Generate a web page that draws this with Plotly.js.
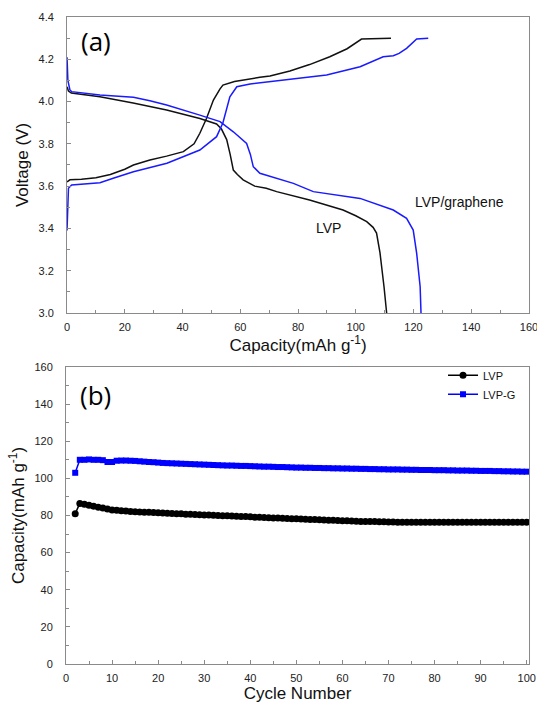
<!DOCTYPE html>
<html>
<head>
<meta charset="utf-8">
<script src="https://cdn.plot.ly/plotly-3.0.1.min.js"></script>
<style>html,body{margin:0;padding:0;background:#fff;}#chart{width:537px;height:706px;}</style>
</head>
<body>
<div id="chart"></div>
<script>
// ---- Panel (a): charge/discharge curves ----
const lvpChargeCap = [0, 1, 5, 10, 15, 20, 23, 28.7, 34.5, 40.3, 44, 46, 48.3, 50.7, 53, 54, 58, 62, 66.8, 70.3, 77.2, 84, 91, 97, 102, 112.2];
const lvpChargeV   = [3.62, 3.63, 3.632, 3.64, 3.655, 3.68, 3.70, 3.724, 3.742, 3.763, 3.80, 3.85, 3.92, 4.007, 4.06, 4.078, 4.095, 4.105, 4.115, 4.121, 4.145, 4.175, 4.212, 4.25, 4.296, 4.3];
const lvpDisCap = [0, 0.5, 1.5, 11.4, 22.9, 34.5, 46, 51.8, 53.5, 55.3, 56.5, 57.6, 59, 61, 65, 69, 72.6, 84, 95.6, 100, 103.8, 106, 107.2, 108.4, 109.8, 110.7];
const lvpDisV   = [4.07, 4.05, 4.04, 4.023, 3.993, 3.96, 3.92, 3.894, 3.87, 3.82, 3.75, 3.676, 3.655, 3.63, 3.60, 3.59, 3.574, 3.534, 3.487, 3.46, 3.432, 3.405, 3.378, 3.284, 3.123, 3.0];
const gChargeCap = [0, 0.2, 0.5, 1.6, 11.4, 16, 23, 34.6, 46, 51.8, 54, 56.4, 58.8, 63.4, 70.3, 80, 89.9, 101.5, 109.5, 113, 115, 117.6, 121.1, 125.1];
const gChargeV   = [3.39, 3.5, 3.59, 3.605, 3.616, 3.637, 3.668, 3.708, 3.771, 3.834, 3.9, 4.023, 4.07, 4.083, 4.094, 4.108, 4.126, 4.165, 4.212, 4.217, 4.228, 4.252, 4.296, 4.3];
const gDisCap = [0, 0.3, 1.0, 1.6, 11.4, 23, 28.7, 34.5, 46, 53, 57.6, 62.2, 63.5, 64.5, 66.8, 72, 78.4, 85.3, 90, 101.5, 113, 117.6, 119.9, 121.1, 122.3, 122.6];
const gDisV   = [4.21, 4.10, 4.055, 4.047, 4.031, 4.02, 4.004, 3.984, 3.936, 3.905, 3.857, 3.802, 3.75, 3.692, 3.661, 3.64, 3.613, 3.574, 3.565, 3.542, 3.487, 3.448, 3.392, 3.282, 3.124, 3.0];

// ---- Panel (b): cycling ----
const cycles = [2,3,4,5,6,7,8,9,10,11,12,13,14,15,16,17,18,19,20,21,22,23,24,25,26,27,28,29,30,31,32,33,34,35,36,37,38,39,40,41,42,43,44,45,46,47,48,49,50,51,52,53,54,55,56,57,58,59,60,61,62,63,64,65,66,67,68,69,70,71,72,73,74,75,76,77,78,79,80,81,82,83,84,85,86,87,88,89,90,91,92,93,94,95,96,97,98,99,100];
const lvpCap = [81, 86.5, 86, 85.5, 85, 84.5, 84, 83.5, 83, 82.8, 82.6, 82.4, 82.2, 82, 81.9, 81.8, 81.7, 81.6, 81.5, 81.3,
  81.2, 81.1, 81, 80.9, 80.7, 80.6, 80.5, 80.4, 80.3, 80.2, 80.1, 80, 79.9, 79.8, 79.7, 79.6, 79.5, 79.4, 79.3, 79.1,
  79, 78.9, 78.8, 78.7, 78.6, 78.5, 78.4, 78.3, 78.2, 78.1, 78, 77.9, 77.8, 77.7, 77.6, 77.5, 77.4, 77.3, 77.2, 77.1,
  77, 76.9, 76.8, 76.8, 76.7, 76.7, 76.6, 76.6, 76.5, 76.5, 76.4, 76.4, 76.4, 76.4, 76.4, 76.4, 76.4, 76.4, 76.4, 76.4,
  76.4, 76.4, 76.4, 76.4, 76.4, 76.4, 76.4, 76.4, 76.4, 76.4, 76.4, 76.4, 76.4, 76.4, 76.4, 76.4, 76.4, 76.4, 76.4];
const lvpgCap = [103, 110, 110, 110.2, 110, 110, 109.8, 108.8, 108.8, 109.5, 109.6, 109.6, 109.5, 109.4, 109.2, 109, 108.8, 108.7, 108.5, 108.3,
  108.2, 108.1, 108, 107.9, 107.8, 107.7, 107.6, 107.5, 107.4, 107.3, 107.2, 107.1, 107, 106.9, 106.9, 106.8, 106.7, 106.7, 106.6, 106.5,
  106.4, 106.3, 106.3, 106.2, 106.1, 106.1, 106, 105.9, 105.8, 105.8, 105.7, 105.7, 105.6, 105.6, 105.5, 105.5, 105.4, 105.4, 105.3, 105.3,
  105.2, 105.2, 105.1, 105.1, 105, 105, 104.9, 104.9, 104.8, 104.8, 104.8, 104.7, 104.7, 104.6, 104.6, 104.5, 104.5, 104.5, 104.4, 104.4,
  104.4, 104.3, 104.3, 104.2, 104.2, 104.2, 104.1, 104.1, 104, 104, 104, 103.9, 103.9, 103.8, 103.8, 103.7, 103.7, 103.6, 103.6];

const BLUE = '#1a1aff';
const tickFont = {family: 'Liberation Sans, Arial, sans-serif', size: 11, color: '#222'};
const titleFont = {family: 'Liberation Sans, Arial, sans-serif', size: 17, color: '#111'};
const axisBase = {
  showline: true, linecolor: '#8a8a8a', linewidth: 1, mirror: true,
  ticks: 'inside', ticklen: 4, tickcolor: '#8a8a8a', showgrid: false, zeroline: false,
  tickfont: tickFont, ticklabeloverflow: 'allow'
};

const traces = [
  {x: lvpChargeCap, y: lvpChargeV, xaxis: 'x', yaxis: 'y', mode: 'lines', line: {color: '#111', width: 1.5}, showlegend: false},
  {x: lvpDisCap, y: lvpDisV, xaxis: 'x', yaxis: 'y', mode: 'lines', line: {color: '#111', width: 1.5}, showlegend: false},
  {x: gChargeCap, y: gChargeV, xaxis: 'x', yaxis: 'y', mode: 'lines', line: {color: BLUE, width: 1.5}, showlegend: false},
  {x: gDisCap, y: gDisV, xaxis: 'x', yaxis: 'y', mode: 'lines', line: {color: BLUE, width: 1.5}, showlegend: false},
  {x: cycles, y: lvpCap, xaxis: 'x2', yaxis: 'y2', name: 'LVP', mode: 'lines+markers',
   line: {color: '#000', width: 1.5}, marker: {symbol: 'circle', size: 7, color: '#000'}},
  {x: cycles, y: lvpgCap, xaxis: 'x2', yaxis: 'y2', name: 'LVP-G', mode: 'lines+markers',
   line: {color: '#0000ff', width: 1.5}, marker: {symbol: 'square', size: 6, color: '#0000ff'}}
];

const layout = {
  width: 537, height: 706,
  margin: {l: 0, r: 0, t: 0, b: 0},
  paper_bgcolor: '#fff', plot_bgcolor: '#fff',
  showlegend: true,
  legend: {x: 0.825, y: 0.489, xanchor: 'left', yanchor: 'top', bgcolor: 'rgba(0,0,0,0)',
           font: {family: 'Liberation Sans, Arial, sans-serif', size: 11, color: '#111'}, tracegroupgap: 0, itemwidth: 30},
  xaxis: Object.assign({}, axisBase, {domain: [0.1248, 0.9851], anchor: 'y', range: [0, 160], dtick: 20,
    minor: {dtick: 10, ticks: 'inside', ticklen: 3, tickcolor: '#8a8a8a'}, ticklabelstandoff: 4,
    title: {text: 'Capacity(mAh g<sup>-1</sup>)', font: titleFont, standoff: 1}}),
  yaxis: Object.assign({}, axisBase, {domain: [0.5567, 0.9759], anchor: 'x', range: [3.0, 4.4], dtick: 0.2, tickformat: '.1f',
    minor: {dtick: 0.1, ticks: 'inside', ticklen: 3, tickcolor: '#8a8a8a'}, ticklabelstandoff: 10,
    title: {text: 'Voltage (V)', font: titleFont, standoff: 5}}),
  xaxis2: Object.assign({}, axisBase, {domain: [0.1229, 0.9851], anchor: 'y2', range: [0, 100.5], dtick: 10,
    minor: {dtick: 5, ticks: 'inside', ticklen: 3, tickcolor: '#8a8a8a'}, ticklabelstandoff: 4,
    title: {text: 'Cycle Number', font: titleFont, standoff: 0}}),
  yaxis2: Object.assign({}, axisBase, {domain: [0.0595, 0.4802], anchor: 'x2', range: [0, 160], dtick: 20,
    minor: {dtick: 10, ticks: 'inside', ticklen: 3, tickcolor: '#8a8a8a'}, ticklabelstandoff: 10,
    title: {text: 'Capacity(mAh g<sup>-1</sup>)', font: titleFont, standoff: 5}}),
  annotations: [
    {text: '(a)', xref: 'x', yref: 'y', x: 4, y: 4.285, xanchor: 'left', yanchor: 'middle', showarrow: false,
     font: {family: 'Open Sans, sans-serif', size: 26, color: '#000'}},
    {text: '(b)', xref: 'x2', yref: 'y2', x: 2.5, y: 145, xanchor: 'left', yanchor: 'middle', showarrow: false,
     font: {family: 'Open Sans, sans-serif', size: 26, color: '#000'}},
    {text: 'LVP', xref: 'x', yref: 'y', x: 90.4, y: 3.40, xanchor: 'center', yanchor: 'middle', showarrow: false,
     font: {family: 'Liberation Sans, Arial, sans-serif', size: 14, color: '#111'}},
    {text: 'LVP/graphene', xref: 'x', yref: 'y', x: 135.8, y: 3.527, xanchor: 'center', yanchor: 'middle', showarrow: false,
     font: {family: 'Liberation Sans, Arial, sans-serif', size: 14, color: '#111'}}
  ]
};

Plotly.newPlot('chart', traces, layout, {displayModeBar: false, staticPlot: true});
</script>
</body>
</html>
